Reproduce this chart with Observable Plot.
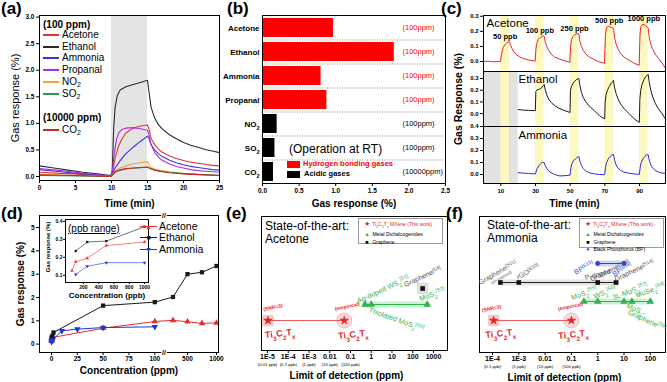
<!DOCTYPE html>
<html><head><meta charset="utf-8">
<script src="https://cdn.jsdelivr.net/npm/d3@7"></script>
<script src="https://cdn.jsdelivr.net/npm/@observablehq/plot@0.6"></script>
<style>
html,body{margin:0;padding:0;background:#fff;}
#root{position:relative;width:667px;height:382px;overflow:hidden;background:#fff;font-family:"Liberation Sans",Arial,Helvetica,sans-serif;color:#000;}
#root svg{position:absolute;overflow:visible;}
.t{position:absolute;white-space:nowrap;line-height:1;}
.t sub{font-size:70%;vertical-align:-0.25em;line-height:0;}
.lbox{position:absolute;border:1px solid #9a9a9a;background:#fff;font-size:5px;line-height:7.3px;padding:1px 2px 0 4px;box-sizing:border-box;}
.lbox span.s{display:inline-block;width:8px;text-align:center;}
</style></head><body><div id="root"></div>
<script>
// ================= DATA =================
// (a) transient response, [time min, response %]
const aGasNames = ["Acetone","Ethanol","Ammonia","Propanal","NO2","SO2","CO2"];
const aExposure = [[10,15]];
const aAcetone = [[0,0.08],[3,0.06],[6,0.04],[9.9,0.01],[10.1,0.05],[10.5,0.35],[11,0.58],[11.5,0.72],[12,0.82],[13,0.91],[14,0.95],[15,0.97],[15.2,0.9],[15.5,0.72],[16,0.6],[16.5,0.52],[17,0.46],[18,0.39],[19,0.34],[20,0.3],[21,0.27],[22,0.25],[23,0.23],[24,0.21],[25,0.2]];
const aEthanol = [[0,0.2],[2,0.16],[4,0.12],[6,0.08],[8,0.05],[9.9,0.02],[10.1,0.1],[10.3,0.9],[10.5,1.3],[10.8,1.52],[11.2,1.63],[12,1.69],[13,1.73],[14,1.77],[15,1.81],[15.2,1.6],[15.5,1.3],[16,1.1],[16.5,0.98],[17,0.9],[18,0.79],[19,0.71],[20,0.64],[21,0.59],[22,0.55],[23,0.51],[24,0.48],[25,0.45]];
const aAmmonia = [[0,0.13],[3,0.09],[6,0.05],[9.9,0.01],[10.1,0.04],[10.5,0.16],[11,0.26],[11.5,0.35],[12,0.43],[13,0.55],[14,0.66],[15,0.76],[15.2,0.72],[15.5,0.6],[16,0.5],[16.5,0.43],[17,0.38],[18,0.31],[19,0.26],[20,0.22],[21,0.19],[22,0.17],[23,0.15],[24,0.13],[25,0.12]];
const aPropanal = [[0,0.15],[3,0.11],[6,0.06],[9.9,0.01],[10.1,0.1],[10.4,0.45],[10.7,0.7],[11,0.82],[11.5,0.89],[12,0.91],[13,0.92],[14,0.9],[15,0.87],[15.2,0.78],[15.5,0.6],[16,0.45],[16.5,0.37],[17,0.31],[18,0.24],[19,0.19],[20,0.16],[21,0.13],[22,0.11],[23,0.1],[24,0.09],[25,0.08]];
const aNO2 = [[0,0.04],[5,0.02],[9.9,0.0],[10.2,0.05],[10.5,0.1],[11,0.15],[12,0.2],[13,0.24],[14,0.26],[15,0.28],[15.2,0.22],[15.5,0.17],[16,0.14],[17,0.11],[18,0.09],[20,0.06],[22,0.04],[25,0.02]];
const aSO2 = [[0,0.02],[5,0.01],[9.9,0.0],[10.2,0.04],[10.5,0.08],[11,0.11],[12,0.14],[13,0.155],[14,0.165],[15,0.175],[15.3,0.15],[16,0.12],[17,0.1],[18,0.08],[20,0.055],[22,0.04],[25,0.025]];
const aCO2 = [[0,0.03],[5,0.02],[9.9,0.0],[10.2,0.04],[10.5,0.09],[11,0.12],[12,0.15],[13,0.16],[14,0.17],[15,0.18],[15.3,0.16],[16,0.12],[17,0.09],[18,0.07],[20,0.05],[22,0.035],[25,0.02]];
const aCurves = [aAcetone,aEthanol,aAmmonia,aPropanal,aNO2,aSO2,aCO2];

// (b) bar chart
const bGases = ["Acetone","Ethanol","Ammonia","Propanal","NO2","SO2","CO2"];
const bResponse = [0.97,1.80,0.80,0.88,0.20,0.17,0.15];
const bClass = ["Hydrogen bonding gases","Hydrogen bonding gases","Hydrogen bonding gases","Hydrogen bonding gases","Acidic gases","Acidic gases","Acidic gases"];
const bConc = ["(100ppm)","(100ppm)","(100ppm)","(100ppm)","(100ppm)","(100ppm)","(10000ppm)"];

// (c) ppb-level cycling, [time min, response %]
const cExposure = [[10,15],[30,35],[50,55],[70,75],[90,95]];
const cNoData = [[0,20]];
const cAcetoneConc = ["50 ppb","100 ppb","250 ppb","500 ppb","1000 ppb"];
const cAcetone = [[0,0],[3,0.002],[6,-0.002],[9.8,0],[10.3,0.04],[10.8,0.07],[11.5,0.095],[12.5,0.115],[13.5,0.125],[14.5,0.13],[15,0.13],[15.6,0.11],[16.5,0.085],[17.5,0.065],[19,0.045],[21,0.03],[23,0.02],[26,0.01],[29.8,0.003],[30.3,0.09],[30.8,0.12],[31.5,0.145],[32.5,0.158],[33.5,0.165],[34.5,0.17],[35,0.168],[35.6,0.13],[36.5,0.1],[37.5,0.075],[39,0.05],[41,0.03],[44,0.015],[47,0.005],[49.8,-0.005],[50.3,0.11],[50.8,0.145],[51.5,0.165],[52.5,0.175],[53.5,0.182],[54.5,0.185],[55,0.183],[55.6,0.135],[56.5,0.1],[57.5,0.075],[59,0.05],[61,0.03],[64,0.012],[67,-0.003],[69.8,-0.012],[70.3,0.16],[70.8,0.215],[71.5,0.232],[72.5,0.235],[73.5,0.228],[74.5,0.222],[75,0.22],[75.6,0.16],[76.5,0.115],[77.5,0.085],[79,0.055],[81,0.03],[84,0.008],[87,-0.012],[89.8,-0.025],[90.3,0.18],[90.8,0.232],[91.5,0.245],[92.5,0.245],[93.5,0.238],[94.5,0.228],[95,0.222],[95.6,0.16],[96.5,0.115],[97.5,0.085],[99,0.05],[101,0.02],[103,-0.01],[105,-0.045]];
const cEthanol = [[20,0.035],[23,0.03],[26,0.028],[29.9,0.025],[30.2,0.19],[30.7,0.2],[31.5,0.205],[32.5,0.21],[33.5,0.22],[34.5,0.24],[35,0.25],[35.5,0.21],[36.5,0.16],[37.5,0.125],[39,0.095],[41,0.07],[43,0.05],[46,0.03],[49.9,0.01],[50.2,0.2],[50.7,0.23],[51.5,0.255],[52.5,0.275],[53.5,0.29],[54.5,0.298],[55,0.3],[55.5,0.25],[56.5,0.18],[57.5,0.14],[59,0.1],[61,0.065],[64,0.025],[67,-0.02],[69.9,-0.045],[70.2,0.1],[70.7,0.16],[71.5,0.2],[72.5,0.23],[73.5,0.255],[74.5,0.275],[75,0.285],[75.5,0.23],[76.5,0.17],[77.5,0.13],[79,0.085],[81,0.045],[84,0],[87,-0.045],[89.9,-0.075],[90.2,0.12],[90.7,0.2],[91.5,0.25],[92.5,0.29],[93.5,0.315],[94.5,0.33],[95,0.335],[95.5,0.28],[96.5,0.2],[97.5,0.15],[99,0.09],[101,0.04],[103,0],[105,-0.045]];
const cAmmonia = [[20,0.015],[23,0.012],[26,0.008],[29.9,0.005],[30.5,0.03],[31,0.05],[32,0.075],[33,0.09],[34,0.1],[35,0.1],[35.6,0.075],[36.5,0.05],[37.5,0.03],[39,0.015],[41,0],[44,-0.012],[47,-0.01],[49.9,-0.005],[50.5,0.06],[51,0.09],[52,0.115],[53,0.13],[54,0.143],[55,0.15],[55.6,0.11],[56.5,0.075],[57.5,0.05],[59,0.03],[61,0.015],[64,0.005],[67,0],[69.9,-0.002],[70.5,0.07],[71,0.1],[72,0.13],[73,0.15],[74,0.163],[75,0.168],[75.6,0.12],[76.5,0.08],[77.5,0.055],[79,0.035],[81,0.02],[84,0.01],[87,0.005],[89.9,0],[90.5,0.07],[91,0.1],[92,0.13],[93,0.15],[94,0.163],[95,0.165],[95.6,0.12],[96.5,0.08],[97.5,0.055],[99,0.035],[101,0.02],[103,0.012],[105,0.01]];

// (d) concentration dependence, [ppm, response %]
const dGasNames = ["Acetone","Ethanol","Ammonia"];
const dAcetone = [[0.05,0.125],[0.1,0.175],[0.25,0.195],[0.5,0.265],[1,0.285],[50,0.68],[100,0.97],[250,1.02],[500,0.96],[750,0.89],[1000,0.91]];
const dEthanol = [[0.1,0.235],[0.25,0.285],[0.5,0.29],[1,0.37],[2,0.5],[50,1.65],[100,1.8],[250,2.02],[500,3.0],[750,3.08],[1000,3.35]];
const dAmmonia = [[0.1,0.105],[0.25,0.15],[0.5,0.17],[1,0.17],[10,0.57],[25,0.64],[50,0.71],[100,0.74]];
const dBreak = 175;
// inset (ppb)
const iAcetone = [[50,0.125],[100,0.175],[250,0.195],[500,0.265],[1000,0.285]];
const iEthanol = [[100,0.235],[250,0.285],[500,0.29],[1000,0.37]];
const iAmmonia = [[100,0.105],[250,0.15],[500,0.17],[1000,0.17]];

// (e) acetone limit of detection (ppm)
const eMXene = [1.05e-5, 0.05];
const eTMD = [0.5, 1, 500];
const eGraphene = [300];
const eTicks = [1e-5,1e-4,1e-3,0.01,0.1,1,10,100,1000];
const eTickText = ["1E-5","1E-4","1E-3","0.01","0.1","1","10","100","1000"];
const ePpbText = ["(0.01 ppb)","(0.1 ppb)","(1 ppb)","(10 ppb)","(100 ppb)"];
const eLabels = [
  {text:"(SNR=3)", g:"MXene", x:1.05e-5},
  {text:"Ti_{3}C_{2}T_{x}", g:"MXene", x:1.05e-5},
  {text:"(empirical)", g:"MXene", x:0.05},
  {text:"Ti_{3}C_{2}T_{x}", g:"MXene", x:0.05},
  {text:"Ag-doped WS_{2}^{[S1]}", g:"TMD", x:0.5},
  {text:"Thiolated MoS_{2}^{[S2]}", g:"TMD", x:1},
  {text:"MoS_{2}^{[S3]}", g:"TMD", x:500},
  {text:"Graphene^{[S4]}", g:"Graphene", x:300}
];

// (f) ammonia limit of detection (ppm)
const fMXene = [1.1e-4, 0.1];
const fTMD = [0.3, 1, 10, 20, 100];
const fGraphene = [2e-4, 1e-3, 1, 5];
const fBP = [1, 10];
const fTicks = [1e-4,1e-3,0.01,0.1,1,10,100];
const fTickText = ["1E-4","1E-3","0.01","0.1","1","10","100"];
const fPpbText = ["(0.1 ppb)","(1 ppb)","(10 ppb)","(100 ppb)"];
const fLabels = [
  {text:"(SNR=3)", g:"MXene", x:1.1e-4},
  {text:"Ti_{3}C_{2}T_{x}", g:"MXene", x:1.1e-4},
  {text:"(empirical)", g:"MXene", x:0.1},
  {text:"Ti_{3}C_{2}T_{x}", g:"MXene", x:0.1},
  {text:"MoS_{2}^{[S5]}", g:"TMD", x:0.3},
  {text:"WS_{2}^{[S6]}", g:"TMD", x:1},
  {text:"3L-MoS_{2}^{[S7]}", g:"TMD", x:10},
  {text:"MoSe_{2}^{[S9]}", g:"TMD", x:100},
  {text:"MoS_{2}-", g:"TMD", x:20},
  {text:"Graphene^{[S8]}", g:"TMD", x:20},
  {text:"Graphene^{[S11]}", g:"Graphene", x:2e-4},
  {text:"(air-exposed)", g:"Graphene", x:2e-4},
  {text:"rGO^{[S10]}", g:"Graphene", x:1e-3},
  {text:"P-doped", g:"Graphene", x:1},
  {text:"Graphene^{[S13]}", g:"Graphene", x:1},
  {text:"Graphene^{[S14]}", g:"Graphene", x:5},
  {text:"BP^{[S15]}", g:"BP", x:1},
  {text:"BP^{[S16]}", g:"BP", x:10}
];

// ================= STYLE =================
const FONT = '"Liberation Sans", Arial, Helvetica, sans-serif';
const RED = "#e8262a", GREEN = "#2fb34c", BLUE = "#2f45d8", GLAB = "#555";
const aColors = ["#e8312f","#2b2b2b","#3535d8","#a72fe6","#f5a33c","#2e9a50","#c42a25"];
const root = document.getElementById("root");

function st(fs){ return {fontFamily:FONT, fontSize:fs+"px", fontWeight:"bold", background:"transparent", overflow:"visible", color:"#000"}; }
function rich(svg){
  const ns = "http://www.w3.org/2000/svg";
  svg.querySelectorAll("text, tspan").forEach(el => {
    if (el.children.length) return;
    const s = el.textContent;
    if (!/[_^]\{/.test(s)) return;
    el.textContent = "";
    const re = /([_^])\{([^}]*)\}/g; let last = 0, m;
    const add = (txt, kind) => {
      if (!txt) return;
      const t = document.createElementNS(ns, "tspan");
      t.textContent = txt;
      if (kind) { t.setAttribute("baseline-shift", kind === "_" ? "sub" : "super"); t.setAttribute("font-size", "70%"); }
      el.appendChild(t);
    };
    while ((m = re.exec(s))) { add(s.slice(last, m.index)); add(m[2], m[1]); last = re.lastIndex; }
    add(s.slice(last));
  });
}
function place(svg, left, top){ svg.style.left = left + "px"; svg.style.top = top + "px"; rich(svg); root.appendChild(svg); }
function txt(x, y, html, css){ const d = document.createElement("div"); d.className = "t"; d.style.cssText = `left:${x}px;top:${y}px;` + (css || ""); d.innerHTML = html; root.appendChild(d); return d; }
function bar(x, y, w, h, color){ const d = document.createElement("div"); d.className = "t"; d.style.cssText = `left:${x}px;top:${y}px;width:${w}px;height:${h}px;background:${color}`; root.appendChild(d); }
const subH = s => s.replace(/(\d)/g, "<sub>$1</sub>");
const subS = s => s.replace(/(\d)/g, "_{$1}");
const pairs = (arr, key) => arr.map(([a,b]) => ({[key[0]]:a, [key[1]]:b}));
const plain = d => String(d);
// axis titles: centred text anchored to the frame
const xTitle = (s, dy, fs, extra={}) => Plot.text([s], {frameAnchor:"bottom", lineAnchor:"middle", textAnchor:"middle", dy, fontSize:fs, fontWeight:"bold", ...extra});
const yTitle = (s, dx, fs, extra={}) => Plot.text([s], {frameAnchor:"left", lineAnchor:"middle", textAnchor:"middle", rotate:-90, dx, fontSize:fs, fontWeight:"bold", ...extra});

// ================= PANEL A =================
const aRows = aGasNames.flatMap((g,i) => aCurves[i].map(([t,v]) => ({gas:g, t, v})));
place(Plot.plot({
  width:225, height:212, marginLeft:39, marginRight:6, marginTop:15, marginBottom:32,
  style: st(6.5),
  x:{domain:[0,25]}, y:{domain:[-0.075,3.03]},
  color:{domain:aGasNames, range:aColors},
  marks:[
    Plot.rect(aExposure, {x1:d=>d[0], x2:d=>d[1], fill:"#e4e4e4"}),
    Plot.line(aRows, {x:"t", y:"v", z:"gas", stroke:"gas", strokeWidth:1.1}),
    Plot.frame({stroke:"#000"}),
    Plot.axisX({ticks:[0,5,10,15,20,25], tickSize:3, tickPadding:2, label:null}),
    Plot.axisY({ticks:[0,0.5,1,1.5,2,2.5,3], tickFormat:".1f", tickSize:3, tickPadding:2, label:null}),
    xTitle("Time (min)", 23, 10),
    yTitle("Gas response (%)", -24, 11, {fontWeight:"normal"})
  ]
}), 0, 0);
// legend a
{
  const rowsY = [35,47,58,70,82,94,130];
  txt(43, 20, "(100 ppm)", "font-size:10px;font-weight:bold;");
  txt(43, 113, "(10000 ppm)", "font-size:10px;font-weight:bold;");
  aGasNames.forEach((g,i) => {
    bar(43, rowsY[i]-0.8, 16, 1.6, aColors[i]);
    txt(62, rowsY[i]-5.3, subH(g), "font-size:10px;");
  });
}

// ================= PANEL B =================
const bRows = bGases.map((g,i) => ({gas:g, value:bResponse[i], cls:bClass[i], conc:bConc[i]}));
place(Plot.plot({
  width:225, height:212, marginLeft:37, marginRight:5, marginTop:15, marginBottom:29,
  style: st(6.5),
  x:{domain:[0,2.5]},
  y:{domain:bGases, paddingInner:0.22, paddingOuter:0.11},
  color:{domain:["Hydrogen bonding gases","Acidic gases"], range:["#ff0000","#000000"]},
  marks:[
    Plot.ruleY(bGases.slice(1), {y:d=>d, dy:-12, stroke:"#8a8a8a", strokeDasharray:"1,1.5"}),
    Plot.barX(bRows, {x:"value", y:"gas", fill:"cls"}),
    Plot.text(bRows, {y:"gas", text:"conc", fill:"cls", frameAnchor:"right", lineAnchor:"middle", dx:-43, textAnchor:"start", fontSize:7.5, fontWeight:"normal"}),
    Plot.frame({stroke:"#000"}),
    Plot.axisX({ticks:[0,0.5,1,1.5,2,2.5], tickFormat:".1f", tickSize:3, tickPadding:2, label:null}),
    Plot.axisY({tickSize:0, tickPadding:3, fontSize:8, tickFormat:g => subS(g), label:null}),
    xTitle("Gas response (%)", 20, 10)
  ]
}), 225, 0);
txt(289, 142.5, "(Operation at RT)", "font-size:12px;");
bar(287, 161, 13, 6.5, "#ff0000");
txt(303, 160, "Hydrogen bonding gases", "font-size:7.5px;font-weight:bold;color:#ff0000;");
bar(287, 171, 13, 6.5, "#000");
txt(304, 170, "Acidic gases", "font-size:7.5px;font-weight:bold;");

// ================= PANEL C =================
function cPlot(data, color, yDom, yTicks, o){
  const marks = [];
  if (o.nodata) marks.push(Plot.rect(cNoData, {x1:d=>d[0], x2:d=>d[1], fill:"#e2e2e2"}));
  marks.push(Plot.rect(cExposure, {x1:d=>d[0], x2:d=>d[1], fill:"#fcf8bf"}));
  marks.push(Plot.line(pairs(data, ["t","v"]), {x:"t", y:"v", stroke:color, strokeWidth:1}));
  marks.push(Plot.frame({stroke:"#000"}));
  marks.push(Plot.axisY({ticks:yTicks, tickFormat:".1f", tickSize:3, tickPadding:2, label:null}));
  if (o.xaxis) {
    marks.push(Plot.axisX({ticks:[10,30,50,70,90], tickSize:3, tickPadding:2, label:null}));
    marks.push(xTitle("Time (min)", 20, 10));
  }
  marks.push(Plot.text([o.name], {frameAnchor:"top-left", lineAnchor:"middle", dx:o.ndx, dy:o.ndy, textAnchor:"start", fontSize:11.5, fontWeight:"normal"}));
  if (o.ytitle) marks.push(yTitle(o.ytitle, -25, 10.5));
  if (o.ppb) marks.push(...o.ppb);
  return Plot.plot({
    width:227, height:o.height, marginLeft:43, marginRight:2, marginTop:o.mt, marginBottom:o.mb,
    style: st(6), x:{domain:[0,105], axis:o.xaxis ? undefined : null}, y:{domain:yDom}, marks
  });
}
const cPeaks = cExposure.map(([s,e]) => d3.max(cAcetone.filter(d => d[0] >= s && d[0] <= e + 0.5), d => d[1]));
const cPpbRows = cAcetoneConc.map((c,i) => ({t:(cExposure[i][0]+cExposure[i][1])/2, v:cPeaks[i], c}));
place(cPlot(cAcetone, "#e8262a", [-0.066,0.305], [0,0.1,0.2,0.3], {height:71, mt:15, mb:0, name:"Acetone", ndx:3, ndy:8,
  ppb:[Plot.text(cPpbRows, {x:"t", y:"v", text:"c", dy:-5.5, fontSize:7.5, fontWeight:"bold"})]}), 440, 0);
place(cPlot(cEthanol, "#1a1a1a", [-0.11,0.36], [0,0.1,0.2,0.3], {height:55, mt:0, mb:0, nodata:true, name:"Ethanol", ndx:35, ndy:8, ytitle:"Gas Response (%)"}), 440, 71);
place(cPlot(cAmmonia, "#2b2bd9", [-0.075,0.4], [0,0.1,0.2,0.3,0.4], {height:86, mt:0, mb:29, nodata:true, name:"Ammonia", ndx:35, ndy:9, xaxis:true}), 440, 126);

// ================= PANEL D =================
const dRows = [
  ...dAcetone.map(([c,v]) => ({gas:"Acetone", c, v})),
  ...dEthanol.map(([c,v]) => ({gas:"Ethanol", c, v})),
  ...dAmmonia.map(([c,v]) => ({gas:"Ammonia", c, v}))
];
const dColors = ["#ee2b2b","#1a1a1a","#2233dd"];
place(Plot.plot({
  width:225, height:192, marginLeft:39, marginRight:7, marginTop:25, marginBottom:30,
  style: st(6.5),
  x:{type:"linear", domain:[0,100,250,1000], range:[51,154.3,172.5,216]},
  y:{domain:[-0.36,5.515]},
  color:{domain:dGasNames, range:dColors},
  symbol:{domain:dGasNames, range:["triangle","square","triangle"]},
  marks:[
    Plot.line(dRows, {x:"c", y:"v", z:"gas", stroke:"gas", strokeWidth:1}),
    Plot.dot(dRows, {x:"c", y:"v", symbol:"gas", fill:"gas", r:2.4, rotate:d => d.gas === "Ammonia" ? 180 : 0}),
    Plot.frame({stroke:"#000"}),
    Plot.text([dBreak], {x:d=>d, frameAnchor:"top", lineAnchor:"middle", text:()=>"//", fontSize:7, fill:"#000", stroke:"#fff", strokeWidth:2.5}),
    Plot.text([dBreak], {x:d=>d, frameAnchor:"bottom", lineAnchor:"middle", text:()=>"//", fontSize:7, fill:"#000", stroke:"#fff", strokeWidth:2.5}),
    Plot.axisX({ticks:[0,25,50,75,100,500,1000], tickFormat:plain, tickSize:3, tickPadding:1, label:null}),
    Plot.axisY({ticks:[0,1,2,3,4,5], tickFormat:plain, tickSize:3, tickPadding:2, label:null}),
    xTitle("Concentration (ppm)", 18, 10),
    yTitle("Gas response (%)", -19, 10)
  ]
}), 0, 190);
// inset
const iRows = [
  ...iAcetone.map(([c,v]) => ({gas:"Acetone", c, v})),
  ...iEthanol.map(([c,v]) => ({gas:"Ethanol", c, v})),
  ...iAmmonia.map(([c,v]) => ({gas:"Ammonia", c, v}))
];
place(Plot.plot({
  width:135, height:100, marginLeft:45, marginRight:7, marginTop:14, marginBottom:23,
  style: st(5),
  x:{domain:[-34,1052]}, y:{domain:[0.06,0.41]},
  color:{domain:dGasNames, range:dColors},
  symbol:{domain:dGasNames, range:["triangle","square","triangle"]},
  marks:[
    Plot.frame({fill:"#fff"}),
    Plot.line(iRows, {x:"c", y:"v", z:"gas", stroke:"gas", strokeWidth:0.6}),
    Plot.dot(iRows, {x:"c", y:"v", symbol:"gas", fill:"gas", r:1.3, rotate:d => d.gas === "Ammonia" ? 180 : 0}),
    Plot.frame({stroke:"#000"}),
    Plot.axisX({ticks:[200,400,600,800,1000], tickFormat:plain, tickSize:2, tickPadding:1, label:null}),
    Plot.axisY({ticks:[0.1,0.2,0.3,0.4], tickFormat:".1f", tickSize:2, tickPadding:1, label:null}),
    xTitle("Concentration (ppb)", 13, 8),
    yTitle("Gas response (%)", -17, 6, {dy:-4})
  ]
}), 20, 205);
txt(68, 223.5, "(ppb range)", "font-size:10px;text-decoration:underline;");
{
  const ly = [226,237.5,249], glyph = ["▲","■","▼"];
  dGasNames.forEach((g,i) => {
    bar(140, ly[i]-0.5, 17, 1, dColors[i]);
    txt(144.5, ly[i]-3.5, glyph[i], `font-size:7px;color:${dColors[i]};width:8px;text-align:center;`);
    txt(159, ly[i]-5.5, g, "font-size:10.5px;");
  });
}

// ================= PANELS E, F =================
function lodPlot(o){
  const rows = o.groups.flatMap(([g, xs]) => xs.map(x => ({g, x})));
  const G = g => rows.filter(d => d.g === g);
  const mx = G("MXene");
  const marks = [];
  if (o.halos) marks.push(...o.halos(G));
  marks.push(
    Plot.dot([mx[0]], {x:"x", y:"g", symbol:"square", r:6.5, fill:"#f6cccc"}),
    Plot.dot([mx[1]], {x:"x", y:"g", r:7.5, fill:"#fbdcdc", stroke:"#f0a6a6", strokeWidth:0.8}),
    Plot.line(G("TMD"), {x:"x", y:"g", stroke:"#bdeccb", strokeWidth:6, strokeOpacity:0.8}),
    Plot.line(mx, {x:"x", y:"g", stroke:"#e85c5c", strokeWidth:1}),
    Plot.line(G("TMD"), {x:"x", y:"g", stroke:GREEN, strokeWidth:1.2}),
    Plot.line(G("Graphene"), {x:"x", y:"g", stroke:"#222", strokeWidth:1}),
    Plot.line(G("BP"), {x:"x", y:"g", stroke:BLUE, strokeWidth:1}),
    Plot.dot(mx, {x:"x", y:"g", symbol:"star", fill:RED, r:3.2}),
    Plot.dot(G("TMD"), {x:"x", y:"g", symbol:"triangle", fill:GREEN, r:2.8}),
    Plot.dot(G("Graphene"), {x:"x", y:"g", symbol:"square", fill:"#111", r:2.6}),
    Plot.dot(G("BP"), {x:"x", y:"g", symbol:"circle", fill:BLUE, r:2.4}),
    Plot.frame({stroke:"#000"}),
    Plot.axisX({ticks:o.ticks, tickFormat:d => o.tickText[o.ticks.indexOf(d)], tickSize:3, tickPadding:1, label:null}),
    Plot.text(o.ppbText.map((t,i) => ({x:o.ticks[i], t})), {x:"x", text:"t", frameAnchor:"bottom", lineAnchor:"middle", dy:14, fontSize:4.3, fontWeight:"normal"}),
    xTitle("Limit of detection (ppm)", 25, 10, {dx:-8}),
    ...o.labels.map((d,i) => Plot.text([d], {x:"x", y:"g", text:"text", ...o.labelStyle[i]}))
  );
  return Plot.plot({
    width:o.width, height:192, marginLeft:o.ml, marginRight:o.mr, marginTop:26, marginBottom:o.mb,
    style: st(7),
    x:{type:"log", domain:o.xDomain},
    y:{type:"point", domain:o.yDomain, range:o.yRange, axis:null},
    marks
  });
}
const mxS = (dx,dy,rot,fs) => ({dx, dy, rotate:rot, fontSize:fs, fontWeight:"bold", fill:RED});
const gnS = (dx,dy,rot) => ({dx, dy, rotate:rot, fontSize:7.2, fontWeight:"normal", fill:GREEN});
const gyS = (dx,dy,rot,fs=7) => ({dx, dy, rotate:rot, fontSize:fs, fontWeight:"normal", fill:GLAB});
const blS = (dx,dy,rot) => ({dx, dy, rotate:rot, fontSize:7, fontWeight:"normal", fill:BLUE});

place(lodPlot({
  width:225, ml:36, mr:3, mb:32,
  groups:[["MXene",eMXene],["TMD",eTMD],["Graphene",eGraphene]],
  xDomain:[5.14e-6,4732], yDomain:["Graphene","TMD","MXene"], yRange:[89,139],
  ticks:eTicks, tickText:eTickText, ppbText:ePpbText,
  halos:G => [Plot.dot(G("Graphene"), {x:"x", y:"g", symbol:"square", r:6.5, fill:"#dedede"})],
  labels:eLabels,
  labelStyle:[mxS(5,-13,-12,5), mxS(12,13,-6,9), mxS(3,-14,-12,5), mxS(9,14,-6,9),
              gnS(18,-15,-25), gnS(25,15,20), gnS(5,-10,-20), gyS(0,-12,-25)]
}), 225, 190);

place(lodPlot({
  width:227, ml:39, mr:2, mb:30,
  groups:[["MXene",fMXene],["TMD",fTMD],["Graphene",fGraphene],["BP",fBP]],
  xDomain:[3.2e-5,378], yDomain:["BP","Graphene","TMD","MXene"], yRange:[63,139],
  ticks:fTicks, tickText:fTickText, ppbText:fPpbText,
  halos:G => [
    Plot.line(G("Graphene"), {x:"x", y:"g", stroke:"#e4e4e4", strokeWidth:6}),
    Plot.line(G("BP"), {x:"x", y:"g", stroke:"#cdd6f6", strokeWidth:6})
  ],
  labels:fLabels,
  labelStyle:[mxS(-2,-12,-12,5), mxS(7,13,-6,9), mxS(-1,-14,-12,5), mxS(2,14,-6,9),
              gnS(0,-8,-20), gnS(7,-9,-20), gnS(6,-10,-20), gnS(0,-11,-20), gnS(4,8,25), gnS(15,19,25),
              gyS(-3,-10,-30), gyS(1,-5,-30,4), gyS(9,-11,-30), gyS(0,-8,-15), gyS(12,-12,-25), gyS(18,-12,-25),
              blS(-14,4,-30), blS(-2,6,-30)]
}), 440, 190);

// state-of-the-art texts and legends
txt(265, 220, "State-of-the-art:<br>Acetone", "font-size:12px;line-height:13px;");
txt(487, 219, "State-of-the-art:<br>Ammonia", "font-size:12px;line-height:13px;");
function lodLegend(left, top, w, h, items){
  const b = document.createElement("div"); b.className = "lbox";
  b.style.cssText = `left:${left}px;top:${top}px;width:${w}px;height:${h}px;`;
  b.innerHTML = items.map(([sym, col, label, tcol]) => `<div style="white-space:nowrap"><span class="s" style="color:${col};font-size:${sym==="★"?6.5:5.5}px">${sym}</span> <span style="color:${tcol}">${label}</span></div>`).join("");
  root.appendChild(b);
}
const mxLabel = "Ti<sub style='font-size:70%'>3</sub>C<sub style='font-size:70%'>2</sub>T<sub style='font-size:70%'>x</sub> MXene (This work)";
lodLegend(358, 218, 85, 26, [["★",RED,mxLabel,RED],["▲",GREEN,"Metal Dichalcogenides","#000"],["■","#000","Graphene","#000"]]);
lodLegend(579, 218, 85, 30, [["★",RED,mxLabel,RED],["▲",GREEN,"Metal Dichalcogenides","#000"],["■","#000","Graphene","#000"],["●",BLUE,"Black Phosphorus (BP)","#000"]]);

// panel letters
[["(a)",1,0],["(b)",227,0],["(c)",441,0],["(d)",1,205],["(e)",226,205],["(f)",446,205]].forEach(([s,x,y]) => txt(x, y, s, "font-size:17px;font-weight:bold;"));
</script></body></html>
